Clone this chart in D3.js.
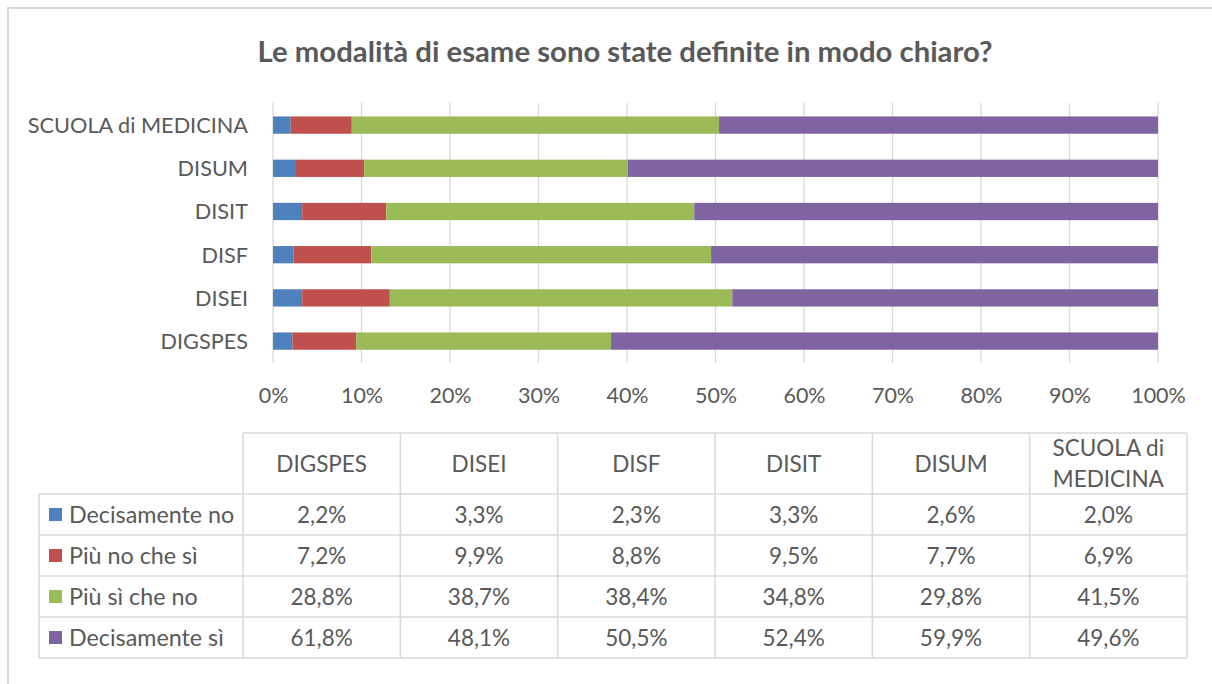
<!DOCTYPE html>
<html>
<head>
<meta charset="utf-8">
<script src="https://cdn.jsdelivr.net/npm/d3@7"></script>
<style>
  body { margin: 0; background: #fff; }
  text { font-family: Lato, "Noto Sans", sans-serif; fill: #595959; }
</style>
</head>
<body>
<div id="chart"></div>
<script>
var title = "Le modalità di esame sono state definite in modo chiaro?";

// categories in table order (left to right)
var categories = ["DIGSPES", "DISEI", "DISF", "DISIT", "DISUM", "SCUOLA di MEDICINA"];
var headerLines = [["DIGSPES"], ["DISEI"], ["DISF"], ["DISIT"], ["DISUM"], ["SCUOLA di", "MEDICINA"]];

var seriesNames = ["Decisamente no", "Più no che sì", "Più sì che no", "Decisamente sì"];
var seriesColors = ["#4f81bd", "#c0504d", "#9bbb59", "#8064a2"];

var decisamenteNo = [2.2, 3.3, 2.3, 3.3, 2.6, 2.0];
var piuNoCheSi    = [7.2, 9.9, 8.8, 9.5, 7.7, 6.9];
var piuSiCheNo    = [28.8, 38.7, 38.4, 34.8, 29.8, 41.5];
var decisamenteSi = [61.8, 48.1, 50.5, 52.4, 59.9, 49.6];

var xTicks = [0, 0.1, 0.2, 0.3, 0.4, 0.5, 0.6, 0.7, 0.8, 0.9, 1];

var allSeries = [decisamenteNo, piuNoCheSi, piuSiCheNo, decisamenteSi];

var width = 1212,
	height = 684,
	tableFont = '22.5px';

var svg = d3.select('#chart')
	.append('svg')
	.attr('width', width)
	.attr('height', height);

// outer frame (right / bottom fall outside the picture)
svg.append('rect')
	.attr('x', 8).attr('y', 8)
	.attr('width', 1240).attr('height', 700)
	.attr('fill', 'none')
	.attr('stroke', '#d9d9d9')
	.attr('stroke-width', 2);

svg.append('text')
	.attr('x', 625)
	.attr('y', 62)
	.attr('text-anchor', 'middle')
	.style('font-size', '29.3px')
	.style('font-weight', 'bold')
	.text(title);

// build rows for the stack
var rows = categories.map(function(c, i) {
	var r = { cat: c };
	seriesNames.forEach(function(s, j) { r[s] = allSeries[j][i]; });
	return r;
});

var stack = d3.stack()
	.keys(seriesNames)
	.offset(d3.stackOffsetExpand);
var stacked = stack(rows);

var x = d3.scaleLinear()
	.domain([0, 1])
	.range([273, 1158]);

var y = d3.scaleBand()
	.domain(categories.slice().reverse())
	.range([103.5, 362.7])
	.paddingInner(0.6)
	.paddingOuter(0.3);

// gridlines
svg.append('g')
	.selectAll('line')
	.data(xTicks)
	.enter()
	.append('line')
	.attr('x1', function(d) { return x(d); })
	.attr('x2', function(d) { return x(d); })
	.attr('y1', 103)
	.attr('y2', 363)
	.attr('stroke', '#d9d9d9')
	.attr('stroke-width', 1.3);

svg.append('g')
	.selectAll('g')
	.data(stacked)
	.enter()
	.append('g')
	.attr('fill', function(d, i) { return seriesColors[i]; })
	.selectAll('rect')
	.data(function(d) { return d; })
	.enter()
	.append('rect')
	.attr('x', function(d) { return x(d[0]); })
	.attr('width', function(d) { return x(d[1]) - x(d[0]); })
	.attr('y', function(d) { return y(d.data.cat); })
	.attr('height', y.bandwidth());

// category labels
svg.append('g')
	.selectAll('text')
	.data(categories)
	.enter()
	.append('text')
	.attr('x', 248)
	.attr('y', function(d) { return y(d) + y.bandwidth() / 2; })
	.attr('dy', '0.36em')
	.attr('text-anchor', 'end')
	.style('font-size', '21.7px')
	.text(function(d) { return d; });

// x axis tick labels
var xAxis = d3.axisBottom(x)
	.tickValues(xTicks)
	.tickFormat(d3.format('.0%'))
	.tickSize(0)
	.tickPadding(0);

var ax = svg.append('g')
	.attr('transform', 'translate(0,388)')
	.call(xAxis);
ax.select('.domain').remove();
ax.selectAll('text')
	.attr('dy', '0.71em')
	.style('font-size', '21.5px')
	.style('font-family', 'Lato, "Noto Sans", sans-serif')
	.attr('fill', '#595959');

// data table
var colX = d3.scaleBand()
	.domain(categories)
	.range([243, 1187]);
var rowY = d3.scaleBand()
	.domain(seriesNames)
	.range([494, 658]);
var legendLeft = 39,
	headerTop = 433;

var tbl = svg.append('g');
var gridColor = '#d9d9d9';

// horizontal lines
tbl.append('line')
	.attr('x1', colX.range()[0]).attr('x2', colX.range()[1])
	.attr('y1', headerTop).attr('y2', headerTop)
	.attr('stroke', gridColor).attr('stroke-width', 1.5);
tbl.selectAll('.hline')
	.data(seriesNames)
	.enter()
	.append('line')
	.attr('x1', legendLeft).attr('x2', colX.range()[1])
	.attr('y1', function(d) { return rowY(d); })
	.attr('y2', function(d) { return rowY(d); })
	.attr('stroke', gridColor).attr('stroke-width', 1.5);
tbl.append('line')
	.attr('x1', legendLeft).attr('x2', colX.range()[1])
	.attr('y1', rowY.range()[1]).attr('y2', rowY.range()[1])
	.attr('stroke', gridColor).attr('stroke-width', 1.5);

// vertical lines
tbl.append('line')
	.attr('x1', legendLeft).attr('x2', legendLeft)
	.attr('y1', rowY.range()[0]).attr('y2', rowY.range()[1])
	.attr('stroke', gridColor).attr('stroke-width', 1.5);
tbl.selectAll('.vline')
	.data(categories)
	.enter()
	.append('line')
	.attr('x1', function(d) { return colX(d); })
	.attr('x2', function(d) { return colX(d); })
	.attr('y1', headerTop).attr('y2', rowY.range()[1])
	.attr('stroke', gridColor).attr('stroke-width', 1.5);
tbl.append('line')
	.attr('x1', colX.range()[1]).attr('x2', colX.range()[1])
	.attr('y1', headerTop).attr('y2', rowY.range()[1])
	.attr('stroke', gridColor).attr('stroke-width', 1.5);

// header text
var headerMid = (headerTop + rowY.range()[0]) / 2;
tbl.selectAll('.head')
	.data(categories)
	.enter()
	.append('text')
	.attr('text-anchor', 'middle')
	.attr('x', function(d) { return colX(d) + colX.bandwidth() / 2; })
	.attr('y', function(d, i) {
		var n = headerLines[i].length;
		return headerMid - (n - 1) * 15.5;
	})
	.style('font-size', tableFont)
	.each(function(d, i) {
		var t = d3.select(this);
		headerLines[i].forEach(function(line, k) {
			t.append('tspan')
				.attr('x', colX(d) + colX.bandwidth() / 2)
				.attr('dy', k === 0 ? '0.36em' : '31px')
				.text(line);
		});
	});

// legend column
var legend = tbl.selectAll('.leg')
	.data(seriesNames)
	.enter()
	.append('g');
legend.append('rect')
	.attr('x', 49)
	.attr('y', function(d) { return rowY(d) + rowY.bandwidth() / 2 - 6.5; })
	.attr('width', 13)
	.attr('height', 13)
	.attr('fill', function(d, i) { return seriesColors[i]; });
legend.append('text')
	.attr('x', 69)
	.attr('y', function(d) { return rowY(d) + rowY.bandwidth() / 2; })
	.attr('dy', '0.36em')
	.style('font-size', '23.3px')
	.text(function(d) { return d; });

// values
var fmt = function(v) { return v.toFixed(1).replace('.', ',') + '%'; };
seriesNames.forEach(function(s, j) {
	tbl.append('g')
		.selectAll('text')
		.data(allSeries[j])
		.enter()
		.append('text')
		.attr('text-anchor', 'middle')
		.attr('x', function(d, i) { return colX(categories[i]) + colX.bandwidth() / 2; })
		.attr('y', rowY(s) + rowY.bandwidth() / 2)
		.attr('dy', '0.36em')
		.style('font-size', tableFont)
		.text(function(d) { return fmt(d); });
});
</script>
</body>
</html>
